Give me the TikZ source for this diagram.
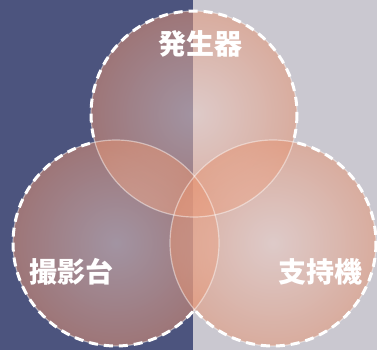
\documentclass[tikz,border=0pt]{standalone}
\usepackage{fontspec}
\newfontfamily\cjk{Noto Sans CJK JP}
\definecolor{bgdark}{RGB}{76,84,126}
\definecolor{bglight}{RGB}{202,200,208}
\definecolor{lens}{RGB}{230,148,115}
\definecolor{lenslight}{RGB}{240,205,195}

\begin{document}
\begin{tikzpicture}[x=1pt,y=-1pt,
    lensfill/.style={inner color=lenslight,outer color=lens,fill opacity=0.53},
    seam/.style={white,opacity=0.45,line width=1.2pt},
    rim/.style={white,line width=3pt,dash pattern=on 9pt off 6pt},
    label/.style={text=white,font=\cjk\bfseries\fontsize{28}{28}\selectfont}]
    % Background halves
    \fill[bgdark] (0,0) rectangle (193,350);
    \fill[bglight] (193,0) rectangle (377,350);
    \useasboundingbox (0,0) rectangle (377,350);

    % Circle centres
    \def\rad{103}
    \coordinate (gen) at (194,114);
    \coordinate (tab) at (116,243);
    \coordinate (sup) at (273,243);

    % Tinted discs
    \foreach \c in {gen,tab,sup}
        \shade[lensfill] (\c) circle (\rad);

    % Thin seams where the discs overlap
    \foreach \c in {gen,tab,sup}
        \draw[seam] (\c) circle (\rad);

    % Dashed outer rims (only outside the other two discs)
    \foreach \a/\b/\c in {gen/tab/sup,tab/gen/sup,sup/gen/tab} {
        \begin{scope}[even odd rule]
            \clip (-20,-20) rectangle (400,400) (\b) circle (\rad);
            \clip (-20,-20) rectangle (400,400) (\c) circle (\rad);
            \draw[rim] (\a) circle (\rad);
        \end{scope}
    }

    % Labels
    \node[label] (genlabel) at (200,44) {発生器};
    \node[label] (tablabel) at (71,272) {撮影台};
    \node[label] (suplabel) at (320,272) {支持機};
\end{tikzpicture}
\end{document}
